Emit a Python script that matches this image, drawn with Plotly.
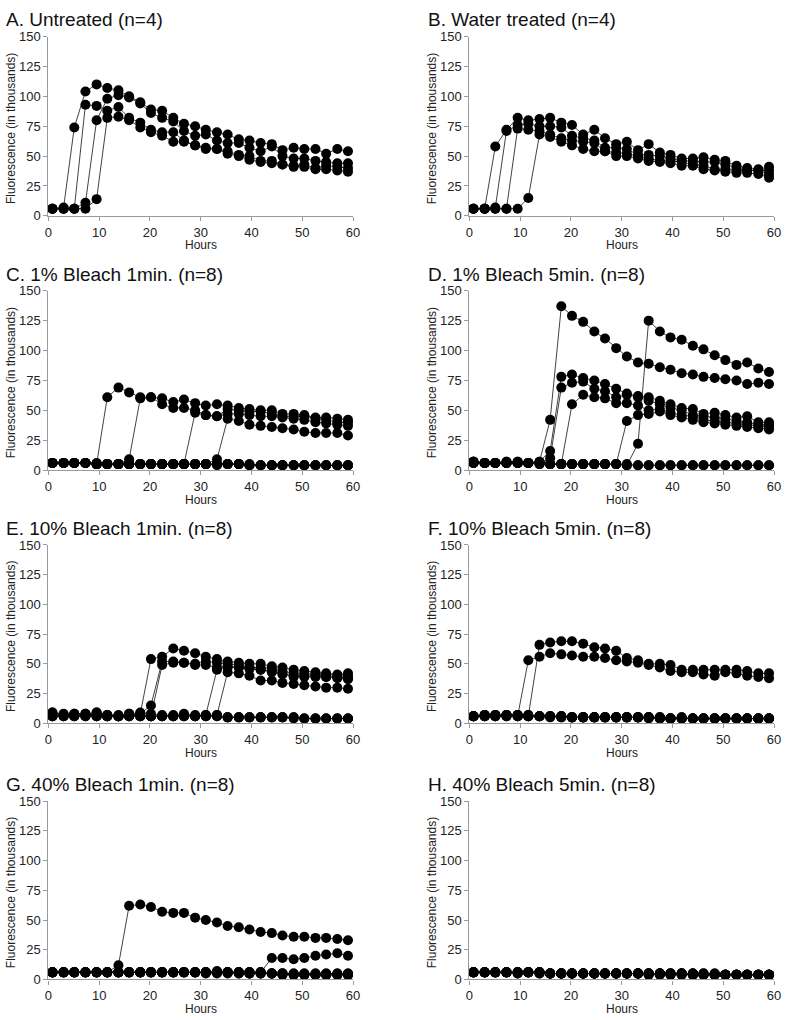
import plotly.graph_objects as go

hours = [0.8, 3.0, 5.1, 7.3, 9.5, 11.6, 13.8, 15.9, 18.1, 20.2, 22.4, 24.6, 26.7, 28.9,
         31.0, 33.2, 35.3, 37.5, 39.6, 41.8, 44.0, 46.1, 48.3, 50.4, 52.6, 54.7, 56.9, 59.0]

titles = ["A. Untreated (n=4)", "B. Water treated (n=4)",
          "C. 1% Bleach 1min. (n=8)", "D. 1% Bleach 5min. (n=8)",
          "E. 10% Bleach 1min. (n=8)", "F. 10% Bleach 5min. (n=8)",
          "G. 40% Bleach 1min. (n=8)", "H. 40% Bleach 5min. (n=8)"]

x_ticks = [0, 10, 20, 30, 40, 50, 60]
y_ticks = [0, 25, 50, 75, 100, 125, 150]

untreated = [
    [6, 7, 74, 104, 110, 107, 105, 100, 95, 89, 88, 82, 77, 75, 72, 70, 68, 64, 63, 61, 60, 55, 57, 56, 56, 52, 56, 54],
    [6, 6, 6, 93, 92, 88, 91, 82, 78, 72, 70, 70, 63, 59, 57, 56, 54, 51, 50, 46, 46, 43, 42, 43, 40, 42, 41, 40],
    [6, 6, 6, 11, 80, 98, 101, 99, 94, 86, 82, 79, 71, 67, 68, 63, 61, 61, 57, 54, 58, 50, 48, 48, 46, 45, 44, 44],
    [6, 6, 6, 6, 14, 82, 83, 80, 74, 70, 67, 62, 62, 59, 56, 56, 52, 50, 47, 45, 44, 43, 41, 41, 39, 39, 38, 37],
]

water = [
    [6, 6, 58, 72, 82, 80, 81, 82, 78, 76, 68, 72, 65, 60, 62, 55, 60, 53, 51, 48, 48, 49, 47, 46, 42, 40, 39, 41],
    [6, 6, 7, 71, 76, 77, 75, 75, 74, 67, 65, 63, 57, 57, 56, 51, 51, 50, 48, 46, 46, 45, 45, 43, 40, 38, 38, 38],
    [6, 6, 6, 6, 73, 72, 71, 68, 65, 63, 62, 61, 54, 53, 52, 50, 48, 46, 46, 45, 43, 42, 39, 39, 38, 38, 38, 35],
    [6, 6, 6, 6, 6, 15, 68, 66, 62, 59, 56, 54, 54, 50, 50, 48, 46, 45, 44, 42, 42, 39, 38, 37, 36, 36, 35, 32],
]

bleach1_1min = [
    [6, 6, 6, 6, 5, 61, 69, 65, 61, 61, 60, 57, 59, 56, 54, 55, 54, 52, 51, 50, 50, 47, 47, 46, 44, 44, 43, 42],
    [6, 6, 6, 6, 5, 5, 5, 9, 60, 61, 55, 52, 52, 50, 46, 45, 51, 50, 49, 49, 47, 45, 45, 45, 43, 42, 40, 40],
    [6, 6, 6, 6, 5, 5, 5, 5, 5, 5, 5, 5, 5, 48, 46, 45, 47, 47, 46, 45, 45, 44, 43, 42, 40, 39, 38, 37],
    [6, 6, 6, 6, 5, 5, 5, 5, 5, 5, 5, 5, 5, 5, 5, 9, 43, 41, 38, 37, 36, 35, 34, 32, 31, 31, 31, 29],
    [6, 6, 6, 6, 5, 5, 5, 5, 5, 5, 5, 5, 5, 5, 5, 5, 5, 5, 4, 4, 4, 4, 4, 4, 4, 4, 4, 4],
    [6, 6, 6, 6, 5, 5, 5, 5, 5, 5, 5, 5, 5, 5, 5, 5, 5, 5, 5, 4, 4, 4, 4, 4, 4, 4, 4, 4],
    [6, 6, 6, 6, 6, 5, 5, 5, 5, 5, 5, 5, 5, 5, 5, 5, 5, 5, 4, 4, 4, 4, 4, 4, 4, 4, 4, 4],
    [6, 6, 6, 6, 5, 5, 5, 5, 5, 5, 5, 5, 5, 5, 5, 4, 5, 5, 4, 4, 4, 4, 4, 4, 4, 4, 4, 4],
]

bleach1_5min = [
    [7, 6, 6, 6, 6, 6, 7, 42, 137, 129, 124, 116, 110, 102, 95, 90, 89, 86, 84, 81, 80, 78, 77, 76, 75, 72, 73, 72],
    [6, 6, 6, 6, 6, 6, 5, 5, 5, 5, 5, 5, 5, 5, 4, 22, 125, 116, 111, 109, 104, 101, 96, 92, 88, 90, 85, 82],
    [7, 6, 6, 7, 7, 6, 7, 16, 78, 80, 77, 75, 72, 68, 64, 62, 61, 58, 55, 52, 51, 47, 48, 46, 44, 45, 40, 40],
    [7, 6, 6, 6, 6, 6, 6, 10, 69, 73, 74, 68, 66, 61, 63, 61, 58, 55, 52, 50, 46, 45, 44, 43, 41, 40, 38, 38],
    [6, 6, 6, 6, 6, 6, 6, 5, 5, 55, 63, 61, 60, 56, 56, 54, 50, 51, 48, 46, 45, 42, 41, 40, 39, 38, 37, 36],
    [6, 6, 6, 6, 6, 6, 5, 5, 5, 5, 5, 5, 5, 5, 41, 46, 47, 49, 46, 44, 42, 40, 39, 38, 37, 36, 35, 34],
    [7, 6, 6, 7, 7, 6, 6, 5, 5, 5, 5, 5, 5, 5, 4, 4, 4, 4, 4, 4, 4, 4, 4, 4, 4, 4, 4, 4],
    [6, 6, 6, 6, 6, 6, 6, 5, 5, 5, 5, 5, 5, 5, 5, 4, 4, 4, 4, 4, 4, 4, 4, 4, 4, 4, 4, 4],
]

bleach10_1min = [
    [9, 7, 7, 7, 8, 7, 6, 7, 8, 54, 56, 63, 61, 59, 56, 54, 52, 51, 50, 50, 48, 47, 45, 44, 43, 42, 41, 42],
    [6, 7, 7, 7, 6, 6, 6, 7, 8, 15, 52, 52, 51, 50, 52, 51, 50, 49, 47, 47, 46, 44, 42, 42, 41, 41, 40, 40],
    [7, 6, 6, 6, 9, 7, 6, 6, 7, 6, 49, 51, 51, 49, 49, 47, 48, 47, 46, 45, 44, 42, 39, 39, 39, 39, 38, 37],
    [6, 6, 6, 6, 6, 6, 6, 8, 6, 6, 6, 6, 7, 6, 7, 45, 47, 47, 46, 45, 43, 41, 40, 40, 40, 39, 39, 38],
    [6, 7, 8, 8, 6, 6, 6, 6, 6, 6, 6, 6, 6, 6, 6, 7, 43, 42, 40, 36, 36, 34, 33, 32, 31, 30, 30, 29],
    [9, 8, 8, 8, 9, 7, 7, 8, 9, 8, 7, 7, 8, 7, 7, 7, 5, 5, 5, 5, 5, 5, 5, 4, 4, 4, 4, 4],
    [7, 7, 7, 7, 7, 6, 6, 6, 6, 6, 6, 6, 6, 6, 6, 6, 5, 5, 5, 5, 5, 5, 5, 4, 4, 4, 4, 4],
    [6, 6, 6, 6, 6, 6, 6, 6, 6, 6, 6, 6, 6, 6, 6, 6, 5, 5, 5, 5, 5, 5, 4, 4, 4, 4, 4, 4],
]

bleach10_5min = [
    [6, 7, 7, 7, 6, 53, 56, 59, 58, 57, 56, 56, 55, 53, 52, 51, 49, 47, 44, 43, 43, 41, 40, 43, 42, 40, 39, 38],
    [6, 7, 7, 7, 7, 6, 66, 68, 69, 69, 67, 64, 63, 61, 55, 53, 50, 50, 49, 45, 45, 45, 45, 45, 45, 44, 42, 42],
    [6, 7, 7, 7, 7, 7, 6, 6, 6, 5, 5, 5, 5, 5, 5, 5, 5, 5, 4, 5, 4, 4, 4, 4, 4, 4, 4, 4],
    [6, 6, 7, 7, 7, 6, 6, 6, 6, 5, 5, 5, 5, 5, 5, 5, 5, 5, 4, 4, 4, 4, 4, 4, 4, 4, 4, 4],
    [6, 7, 6, 6, 6, 7, 6, 6, 5, 5, 5, 5, 5, 5, 5, 5, 5, 5, 4, 4, 4, 4, 4, 4, 4, 4, 4, 4],
    [6, 6, 6, 7, 6, 6, 6, 6, 6, 5, 5, 5, 5, 5, 5, 5, 4, 4, 4, 5, 4, 4, 4, 4, 4, 4, 4, 4],
    [6, 6, 6, 6, 7, 6, 6, 5, 6, 5, 5, 5, 5, 5, 5, 5, 5, 4, 4, 4, 4, 4, 4, 4, 4, 4, 4, 4],
    [6, 6, 6, 6, 6, 6, 6, 6, 5, 5, 5, 5, 5, 5, 5, 5, 5, 4, 4, 4, 4, 4, 4, 4, 4, 4, 4, 4],
]

bleach40_1min = [
    [6, 6, 6, 6, 6, 6, 12, 62, 63, 61, 57, 56, 56, 52, 50, 48, 45, 44, 42, 40, 39, 37, 36, 36, 35, 35, 34, 33],
    [6, 6, 6, 6, 6, 6, 6, 6, 6, 6, 6, 6, 6, 6, 6, 6, 6, 6, 6, 6, 18, 18, 17, 18, 20, 21, 22, 20],
    [6, 6, 6, 6, 6, 6, 6, 6, 6, 6, 6, 6, 6, 6, 6, 7, 6, 6, 6, 6, 5, 5, 5, 5, 5, 5, 5, 5],
    [6, 6, 6, 6, 6, 6, 6, 6, 6, 6, 6, 6, 6, 6, 6, 7, 6, 6, 6, 6, 5, 5, 5, 5, 5, 5, 5, 5],
    [6, 6, 6, 6, 6, 6, 6, 6, 6, 6, 6, 6, 6, 6, 6, 6, 6, 6, 6, 6, 5, 5, 4, 4, 4, 4, 4, 4],
    [6, 6, 6, 6, 6, 6, 6, 6, 6, 6, 6, 6, 6, 6, 6, 6, 6, 6, 5, 5, 5, 5, 4, 4, 4, 4, 4, 4],
    [6, 6, 6, 6, 6, 6, 6, 6, 6, 6, 6, 6, 6, 6, 6, 6, 6, 5, 5, 5, 5, 4, 4, 4, 4, 4, 4, 4],
    [6, 6, 6, 6, 6, 6, 6, 6, 6, 6, 6, 6, 6, 6, 5, 5, 5, 5, 5, 5, 5, 4, 4, 4, 4, 4, 4, 4],
]

bleach40_5min = [
    [6, 6, 6, 6, 6, 6, 6, 5, 5, 5, 5, 5, 5, 5, 5, 5, 5, 5, 5, 5, 5, 5, 5, 4, 4, 4, 4, 4],
    [6, 6, 6, 6, 6, 6, 6, 5, 5, 5, 5, 5, 5, 5, 5, 5, 4, 5, 5, 5, 5, 5, 4, 4, 4, 4, 4, 4],
    [6, 6, 6, 6, 5, 6, 6, 5, 5, 5, 5, 5, 5, 5, 5, 5, 5, 5, 5, 5, 5, 4, 4, 4, 4, 4, 4, 4],
    [6, 6, 6, 6, 6, 6, 5, 5, 5, 5, 5, 5, 5, 5, 5, 5, 5, 5, 4, 4, 4, 4, 4, 4, 4, 4, 4, 4],
    [6, 6, 6, 6, 6, 6, 6, 5, 5, 5, 5, 5, 5, 5, 5, 5, 5, 5, 5, 5, 4, 5, 5, 4, 4, 4, 4, 4],
    [6, 6, 6, 6, 5, 6, 6, 5, 5, 5, 5, 5, 5, 5, 5, 5, 5, 4, 5, 5, 5, 4, 4, 4, 4, 4, 4, 4],
    [6, 6, 6, 6, 6, 6, 6, 5, 5, 5, 5, 5, 5, 5, 5, 5, 4, 4, 4, 5, 4, 4, 4, 4, 4, 4, 4, 4],
    [6, 6, 6, 6, 6, 6, 5, 5, 5, 5, 5, 5, 5, 5, 5, 5, 5, 5, 4, 4, 4, 4, 4, 4, 4, 4, 4, 4],
]

panels = [untreated, water, bleach1_1min, bleach1_5min,
          bleach10_1min, bleach10_5min, bleach40_1min, bleach40_5min]

W, H = 788, 1020
col_x = [(45, 354), (472, 781)]
row_y = [(30, 212), (288, 470), (546, 727), (806, 987)]
title_x = [0, 428]
title_dy = 17  # px above top of axis

FONT = "Arial, Liberation Sans, sans-serif"
AX_COLOR = "#9a9a9a"

fig = go.Figure()
layout = dict(width=W, height=H, margin=dict(l=0, r=0, t=0, b=0),
              paper_bgcolor="white", plot_bgcolor="white", showlegend=False,
              font=dict(family=FONT, color="#222"))
annotations = []

for i, series in enumerate(panels):
    r, c = divmod(i, 2)
    x0, x1 = col_x[c]
    y0, y1 = row_y[r]
    n = "" if i == 0 else str(i + 1)
    layout["xaxis" + n] = dict(
        domain=[x0 / W, x1 / W], range=[0, 60], tickvals=x_ticks,
        showline=True, linecolor=AX_COLOR, linewidth=1.2, ticks="outside",
        ticklen=4, tickcolor=AX_COLOR, tickwidth=1, showgrid=False, zeroline=False,
        tickfont=dict(size=13, color="#222"), anchor="y" + n, fixedrange=True)
    layout["yaxis" + n] = dict(
        domain=[1 - y1 / H, 1 - y0 / H], range=[0, 150], tickvals=y_ticks,
        showline=True, linecolor=AX_COLOR, linewidth=1.2, ticks="outside",
        ticklen=4, tickcolor=AX_COLOR, tickwidth=1, showgrid=False, zeroline=False,
        tickfont=dict(size=13, color="#222"), anchor="x" + n, fixedrange=True)
    for s in series:
        fig.add_trace(go.Scatter(
            x=hours, y=s, mode="lines+markers", xaxis="x" + n, yaxis="y" + n,
            line=dict(color="#111", width=0.8),
            marker=dict(color="black", size=10, line=dict(width=0)),
            cliponaxis=False, hoverinfo="skip"))
    annotations.append(dict(
        text=titles[i], xref="paper", yref="paper", x=title_x[c] / W,
        y=1 - (y0 - title_dy) / H, xanchor="left", yanchor="middle",
        showarrow=False, font=dict(size=19, color="#111", family=FONT)))
    annotations.append(dict(
        text="Fluorescence (in thousands)", xref="paper", yref="paper",
        x=(x0 - 38) / W, y=1 - ((y0 + y1) / 2 + 2) / H, textangle=-90,
        xanchor="center", yanchor="middle", showarrow=False,
        font=dict(size=12, color="#222", family=FONT)))
    annotations.append(dict(
        text="Hours", xref="paper", yref="paper",
        x=(x0 + x1) / 2 / W, y=1 - (y1 + 30) / H,
        xanchor="center", yanchor="middle", showarrow=False,
        font=dict(size=12, color="#222", family=FONT)))

layout["annotations"] = annotations
fig.update_layout(**layout)
fig.write_html("out.html", config={"displayModeBar": False},
               post_script="document.body.style.margin='0';"
                           "document.body.style.overflow='hidden';")
